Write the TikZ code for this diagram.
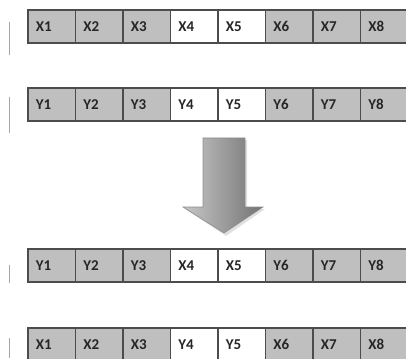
\documentclass[tikz,border=0pt]{standalone}
\usepackage{fontspec}
\setmainfont{Carlito}
\begin{document}
\begin{tikzpicture}[x=1pt,y=-1pt,
  cell/.style={draw=black!70, line width=1.6pt, fill=#1,
    minimum height=33pt, text width=31.5pt, inner xsep=8pt, inner ysep=0pt,
    align=left, anchor=north west, text=black!85,
    font=\bfseries\fontsize{15}{17}\selectfont},
  cell/.default={black!25},
  tick/.style={draw=black!35, line width=0.7pt},
  bigarrow/.style={draw=black!45, line width=0.6pt, left color=black!22, right color=black!55},
]
\useasboundingbox (0,0) rectangle (406,358);
\clip (0,0) rectangle (406,358);

% four rows of eight cells; the 4th and 5th cell of each row are white
\foreach \r/\top/\labs in {a/9/{X,X,X,X,X,X,X,X}, b/87/{Y,Y,Y,Y,Y,Y,Y,Y},
                           c/248/{Y,Y,Y,X,X,Y,Y,Y}, d/327/{X,X,X,Y,Y,X,X,X}}{
  \foreach \l [count=\i] in \labs {
    \pgfmathtruncatemacro\iswhite{(\i==4)||(\i==5)}
    \ifnum\iswhite=1 \def\cellfill{white}\else\def\cellfill{black!25}\fi
    \node[cell=\cellfill] (\r\i) at ({27+47.5*(\i-1)},\top) {\l\i};
  }
}

% faint marks at the left margin
\draw[tick] (9,22) -- (9,55);
\draw[tick] (9,97) -- (9,133);
\draw[tick] (9,265) -- (9,283);
\draw[tick] (9,338) -- (9,358);

% block arrow between the two pairs of rows
\fill[black!12] (205,140) -- (247,140) -- (247,209) -- (265,209) -- (226,236)
  -- (185,209) -- (205,209) -- cycle;
\path[bigarrow] (203,138) -- (245,138) -- (245,207) -- (263,207) -- (224,233)
  -- (183,207) -- (203,207) -- cycle;
\end{tikzpicture}
\end{document}
